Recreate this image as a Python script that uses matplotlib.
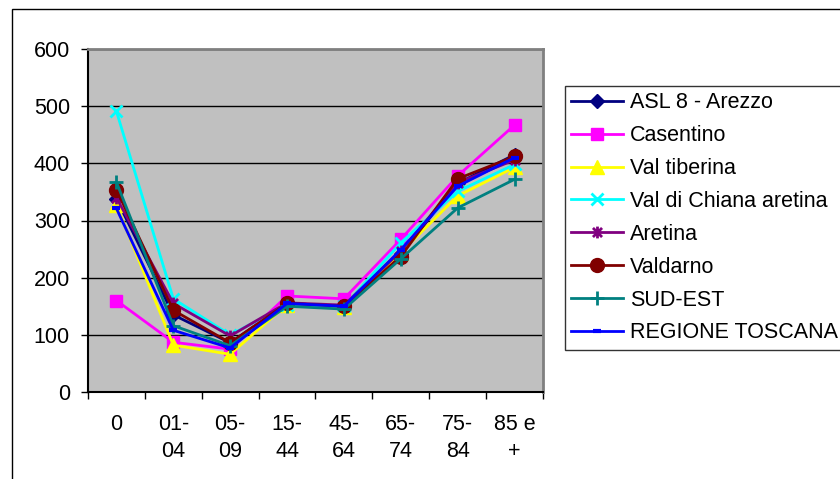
import numpy as np
import matplotlib
matplotlib.use("Agg")
import matplotlib.pyplot as plt
from matplotlib.path import Path
from matplotlib.patches import Rectangle

plt.rcParams['font.family'] = ['Liberation Sans', 'DejaVu Sans']

# age classes on the x axis
age_labels = ["0", "01-\n04", "05-\n09", "15-\n44", "45-\n64", "65-\n74", "75-\n84", "85 e\n+"]

# rates per zone
asl_arezzo = [338, 135, 86, 155, 150, 242, 365, 415]
casentino = [160, 87, 75, 168, 163, 267, 378, 467]
val_tiberina = [327, 82, 66, 153, 148, 244, 343, 393]
val_chiana = [491, 163, 100, 152, 150, 261, 351, 398]
aretina = [340, 155, 98, 156, 152, 246, 366, 406]
valdarno = [354, 143, 86, 155, 150, 237, 373, 412]
sud_est = [367, 116, 81, 150, 145, 233, 322, 372]
toscana = [321, 108, 77, 155, 150, 249, 360, 410]

series_names = ["ASL 8 - Arezzo", "Casentino", "Val tiberina", "Val di Chiana aretina",
                "Aretina", "Valdarno", "SUD-EST", "REGIONE TOSCANA"]

# asterisk: an X crossed by a vertical stroke
star = Path([(-1, -1), (1, 1), (-1, 1), (1, -1), (0, -1.3), (0, 1.3)],
            [Path.MOVETO, Path.LINETO, Path.MOVETO, Path.LINETO, Path.MOVETO, Path.LINETO])

styles = [
    dict(color="#000080", marker="D", ms=7.5),
    dict(color="#FF00FF", marker="s", ms=8.5),
    dict(color="#FFFF00", marker="^", ms=10),
    dict(color="#00FFFF", marker="x", ms=9, mew=2),
    dict(color="#800080", marker=star, ms=8.5, mew=2),
    dict(color="#800000", marker="o", ms=10),
    dict(color="#008080", marker="+", ms=10, mew=2),
    dict(color="#0000FF", marker="_", ms=6, mew=3),
]
data = [asl_arezzo, casentino, val_tiberina, val_chiana, aretina, valdarno, sud_est, toscana]

W, H = 840, 479
fig = plt.figure(figsize=(W / 100, H / 100), dpi=100)

# outer chart frame
fig.patches.append(Rectangle((12 / W, -0.5), 2, (470 / H) + 0.5, transform=fig.transFigure,
                             fill=False, edgecolor="black", linewidth=1))

ax = fig.add_axes([88 / W, (H - 392) / H, (543 - 88) / W, (392 - 49) / H])
ax.set_facecolor("#C0C0C0")

x = np.arange(len(age_labels)) + 0.5
for name, vals, st in zip(series_names, data, styles):
    ax.plot(x, vals, linewidth=2, label=name, color=st["color"], marker=st["marker"],
            markersize=st["ms"], markeredgewidth=st.get("mew", 1),
            markerfacecolor=st["color"], markeredgecolor=st["color"])

ax.set_xlim(0, len(age_labels))
ax.set_ylim(0, 600)
ax.set_yticks(range(0, 601, 100))
ax.yaxis.grid(True, color="black", linewidth=1)
ax.set_axisbelow(True)

ax.set_xticks(np.arange(len(age_labels) + 1))
ax.set_xticklabels([])
ax.set_xticks(x, minor=True)
ax.set_xticklabels(age_labels, minor=True, fontsize=15.5, linespacing=1.33)
ax.tick_params(axis="x", which="minor", length=0, pad=16)
ax.tick_params(axis="x", which="major", length=5, width=1, direction="out")
ax.tick_params(axis="y", length=5, width=1, labelsize=15.5, pad=8)

for side in ("top", "right"):
    ax.spines[side].set_color("#808080")
    ax.spines[side].set_linewidth(2)
for side in ("left", "bottom"):
    ax.spines[side].set_color("black")
    ax.spines[side].set_linewidth(1.5)

leg = ax.legend(loc="upper left", bbox_to_anchor=(565 / W, (H - 86) / H),
                bbox_transform=fig.transFigure, fontsize=15.5, frameon=True,
                fancybox=False, shadow=False, borderaxespad=0, handlelength=2.4,
                handletextpad=0.3, labelspacing=0.55, borderpad=0.3)
leg.get_frame().set_edgecolor("black")
leg.get_frame().set_linewidth(1)

fig.savefig("out.png", dpi=100)
